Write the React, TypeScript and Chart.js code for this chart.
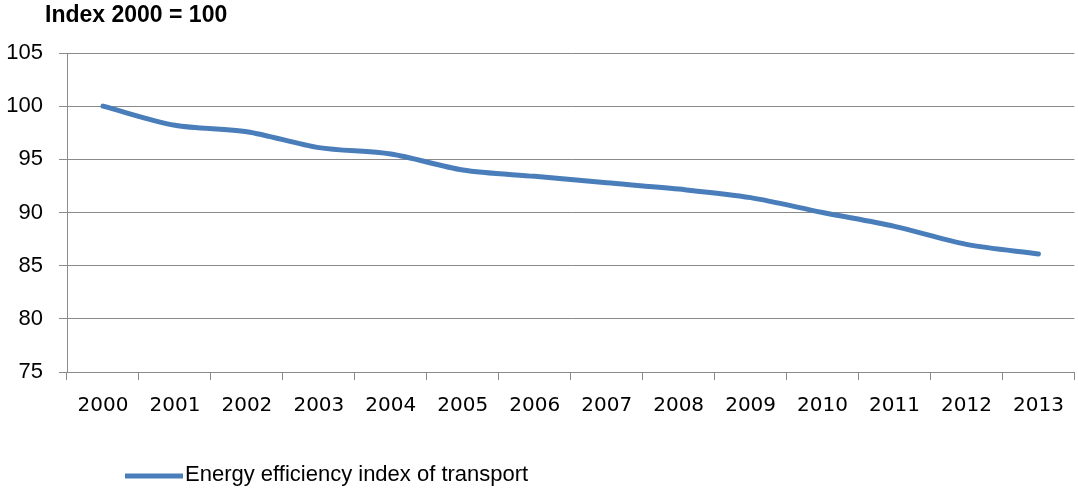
import React, { useEffect, useRef } from "react";
import { Chart, registerables } from "chart.js";

Chart.register(...registerables);

const years = ["2000", "2001", "2002", "2003", "2004", "2005", "2006", "2007", "2008", "2009", "2010", "2011", "2012", "2013"];
const efficiencyIndex = [100, 98.2, 97.6, 96.1, 95.5, 94.0, 93.4, 92.8, 92.2, 91.4, 90.0, 88.7, 87.0, 86.1];
const seriesLabel = "Energy efficiency index of transport";
const titleText = "Index 2000 = 100";
const yMin = 75;
const yMax = 105;
const yStep = 5;

const LINE_COLOR = "#4A7EBB";
const GRID_COLOR = "#8a8a8a";
const TEXT_COLOR = "#000000";

const overlayPlugin = {
  id: "overlay",
  afterDraw(chart: any) {
    const ctx = chart.ctx;
    ctx.save();
    // title
    ctx.fillStyle = TEXT_COLOR;
    ctx.font = "bold 23px 'Liberation Sans'";
    ctx.textAlign = "left";
    ctx.textBaseline = "middle";
    ctx.fillText(titleText, 45, 16);
    // legend
    const ds = chart.data.datasets[0];
    ctx.strokeStyle = ds.borderColor;
    ctx.lineWidth = 5;
    ctx.beginPath();
    ctx.moveTo(125, 476);
    ctx.lineTo(183, 476);
    ctx.stroke();
    ctx.font = "22px 'Liberation Sans'";
    ctx.fillText(ds.label, 185, 475);
    ctx.restore();
  },
};

export default function App() {
  const ref = useRef<HTMLCanvasElement | null>(null);
  useEffect(() => {
    document.body.style.margin = "0";
    const chart = new Chart(ref.current as HTMLCanvasElement, {
      type: "line",
      data: {
        labels: years,
        datasets: [
          {
            label: seriesLabel,
            data: efficiencyIndex,
            borderColor: LINE_COLOR,
            backgroundColor: LINE_COLOR,
            borderWidth: 5,
            pointRadius: 0,
            tension: 0.3,
            borderCapStyle: "round",
          },
        ],
      },
      options: {
        animation: false,
        responsive: false,
        devicePixelRatio: 1,
        layout: { padding: { top: 53, right: 3, left: 0, bottom: 0 } },
        plugins: { legend: { display: false }, title: { display: false }, tooltip: { enabled: false } },
        scales: {
          x: {
            offset: true,
            grid: { offset: true, drawOnChartArea: false, color: GRID_COLOR, tickLength: 8, lineWidth: 1 },
            border: { color: GRID_COLOR },
            ticks: { color: TEXT_COLOR, font: { family: "'DejaVu Sans'", size: 20 }, padding: 14, maxRotation: 0, autoSkip: false },
            afterFit: (s: any) => {
              s.height = 117;
            },
          },
          y: {
            min: yMin,
            max: yMax,
            grid: { color: GRID_COLOR, tickLength: 8, lineWidth: 1 },
            border: { color: GRID_COLOR },
            ticks: { stepSize: yStep, color: TEXT_COLOR, font: { family: "'Liberation Sans'", size: 22 }, padding: 16 },
            afterFit: (s: any) => {
              s.width = 67;
            },
          },
        },
      },
      plugins: [overlayPlugin],
    });
    return () => chart.destroy();
  }, []);
  return (
    <div style={{ position: "absolute", left: 0, top: 0, width: 1078, height: 489 }}>
      <canvas ref={ref} width={1078} height={489} style={{ width: 1078, height: 489 }} />
    </div>
  );
}
